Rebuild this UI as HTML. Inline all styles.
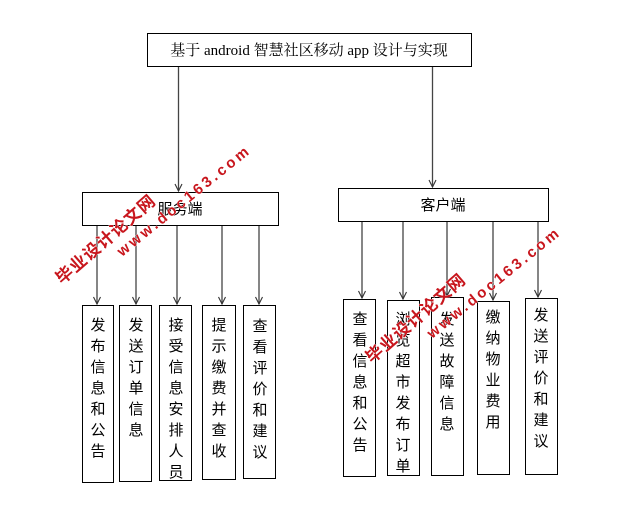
<!DOCTYPE html>
<html><head><meta charset="utf-8"><style>
body{margin:0;background:#fff;}
svg{display:block}
.t{font-family:"Liberation Serif","Noto Serif CJK SC","Noto Sans CJK SC",serif;font-size:15px;fill:#000}
.v{font-family:"Liberation Sans","Noto Sans CJK SC",sans-serif;font-size:15px;fill:#000}
.w{font-family:"Liberation Sans","Noto Sans CJK SC",sans-serif;font-weight:bold;fill:#c8161d;stroke:#fff;stroke-width:0.6;paint-order:stroke}
</style></head><body>
<svg width="624" height="505" viewBox="0 0 624 505" xmlns="http://www.w3.org/2000/svg">
<defs><marker id="a" markerWidth="10" markerHeight="10" refX="8" refY="4" orient="auto" markerUnits="userSpaceOnUse"><path d="M1,0.5 L8,4 L1,7.5" fill="none" stroke="#333" stroke-width="1.1"/></marker></defs>
<g fill="#fff" stroke="#000" stroke-width="1">
<rect x="147.5" y="33.5" width="324" height="33"/>
<rect x="82.5" y="192.5" width="196" height="33"/>
<rect x="338.5" y="188.5" width="210" height="33"/>
<rect x="82.5" y="305.5" width="31" height="177"/>
<rect x="119.5" y="305.5" width="32" height="176"/>
<rect x="159.5" y="305.5" width="32" height="175"/>
<rect x="202.5" y="305.5" width="33" height="174"/>
<rect x="243.5" y="305.5" width="32" height="173"/>
<rect x="343.5" y="299.5" width="32" height="177"/>
<rect x="387.5" y="300.5" width="32" height="175"/>
<rect x="431.5" y="297.5" width="32" height="178"/>
<rect x="477.5" y="301.5" width="32" height="173"/>
<rect x="525.5" y="298.5" width="32" height="176"/>
</g>
<g stroke="#444" stroke-width="1.3" marker-end="url(#a)">
<line x1="178.5" y1="67" x2="178.5" y2="191"/>
<line x1="432.5" y1="67" x2="432.5" y2="187"/>
<line x1="97" y1="226" x2="97" y2="304"/>
<line x1="136" y1="226" x2="136" y2="304"/>
<line x1="177" y1="226" x2="177" y2="304"/>
<line x1="222" y1="226" x2="222" y2="304"/>
<line x1="259" y1="226" x2="259" y2="304"/>
<line x1="362" y1="222" x2="362" y2="298"/>
<line x1="403" y1="222" x2="403" y2="299"/>
<line x1="447" y1="222" x2="447" y2="296"/>
<line x1="493" y1="222" x2="493" y2="300"/>
<line x1="538" y1="222" x2="538" y2="297"/>
</g>
<text class="t" x="309" y="55" text-anchor="middle">基于 android 智慧社区移动 app 设计与实现</text>
<text class="v" x="180" y="214" text-anchor="middle">服务端</text>
<text class="v" x="443" y="210" text-anchor="middle">客户端</text>
<g class="v" text-anchor="middle">
<text x="98" y="330"><tspan x="98">发</tspan><tspan x="98" dy="21">布</tspan><tspan x="98" dy="21">信</tspan><tspan x="98" dy="21">息</tspan><tspan x="98" dy="21">和</tspan><tspan x="98" dy="21">公</tspan><tspan x="98" dy="21">告</tspan></text>
<text x="136" y="330"><tspan x="136">发</tspan><tspan x="136" dy="21">送</tspan><tspan x="136" dy="21">订</tspan><tspan x="136" dy="21">单</tspan><tspan x="136" dy="21">信</tspan><tspan x="136" dy="21">息</tspan></text>
<text x="176" y="330"><tspan x="176">接</tspan><tspan x="176" dy="21">受</tspan><tspan x="176" dy="21">信</tspan><tspan x="176" dy="21">息</tspan><tspan x="176" dy="21">安</tspan><tspan x="176" dy="21">排</tspan><tspan x="176" dy="21">人</tspan><tspan x="176" dy="21">员</tspan></text>
<text x="219" y="330"><tspan x="219">提</tspan><tspan x="219" dy="21">示</tspan><tspan x="219" dy="21">缴</tspan><tspan x="219" dy="21">费</tspan><tspan x="219" dy="21">并</tspan><tspan x="219" dy="21">查</tspan><tspan x="219" dy="21">收</tspan></text>
<text x="260" y="331"><tspan x="260">查</tspan><tspan x="260" dy="21">看</tspan><tspan x="260" dy="21">评</tspan><tspan x="260" dy="21">价</tspan><tspan x="260" dy="21">和</tspan><tspan x="260" dy="21">建</tspan><tspan x="260" dy="21">议</tspan></text>
<text x="360" y="324"><tspan x="360">查</tspan><tspan x="360" dy="21">看</tspan><tspan x="360" dy="21">信</tspan><tspan x="360" dy="21">息</tspan><tspan x="360" dy="21">和</tspan><tspan x="360" dy="21">公</tspan><tspan x="360" dy="21">告</tspan></text>
<text x="403" y="324"><tspan x="403">浏</tspan><tspan x="403" dy="21">览</tspan><tspan x="403" dy="21">超</tspan><tspan x="403" dy="21">市</tspan><tspan x="403" dy="21">发</tspan><tspan x="403" dy="21">布</tspan><tspan x="403" dy="21">订</tspan><tspan x="403" dy="21">单</tspan></text>
<text x="447" y="324"><tspan x="447">发</tspan><tspan x="447" dy="21">送</tspan><tspan x="447" dy="21">故</tspan><tspan x="447" dy="21">障</tspan><tspan x="447" dy="21">信</tspan><tspan x="447" dy="21">息</tspan></text>
<text x="493" y="322"><tspan x="493">缴</tspan><tspan x="493" dy="21">纳</tspan><tspan x="493" dy="21">物</tspan><tspan x="493" dy="21">业</tspan><tspan x="493" dy="21">费</tspan><tspan x="493" dy="21">用</tspan></text>
<text x="541" y="320"><tspan x="541">发</tspan><tspan x="541" dy="21">送</tspan><tspan x="541" dy="21">评</tspan><tspan x="541" dy="21">价</tspan><tspan x="541" dy="21">和</tspan><tspan x="541" dy="21">建</tspan><tspan x="541" dy="21">议</tspan></text>
</g>
<g class="w">
<text font-size="17" letter-spacing="1" transform="translate(62,285) rotate(-41)">毕业设计论文网</text>
<text font-size="15" letter-spacing="3" transform="translate(122,257) rotate(-39)">www.doc163.com</text>
<text font-size="17" letter-spacing="1" transform="translate(372,364) rotate(-41)">毕业设计论文网</text>
<text font-size="15" letter-spacing="3" transform="translate(432,339) rotate(-39)">www.doc163.com</text>
</g>
</svg>
</body></html>
